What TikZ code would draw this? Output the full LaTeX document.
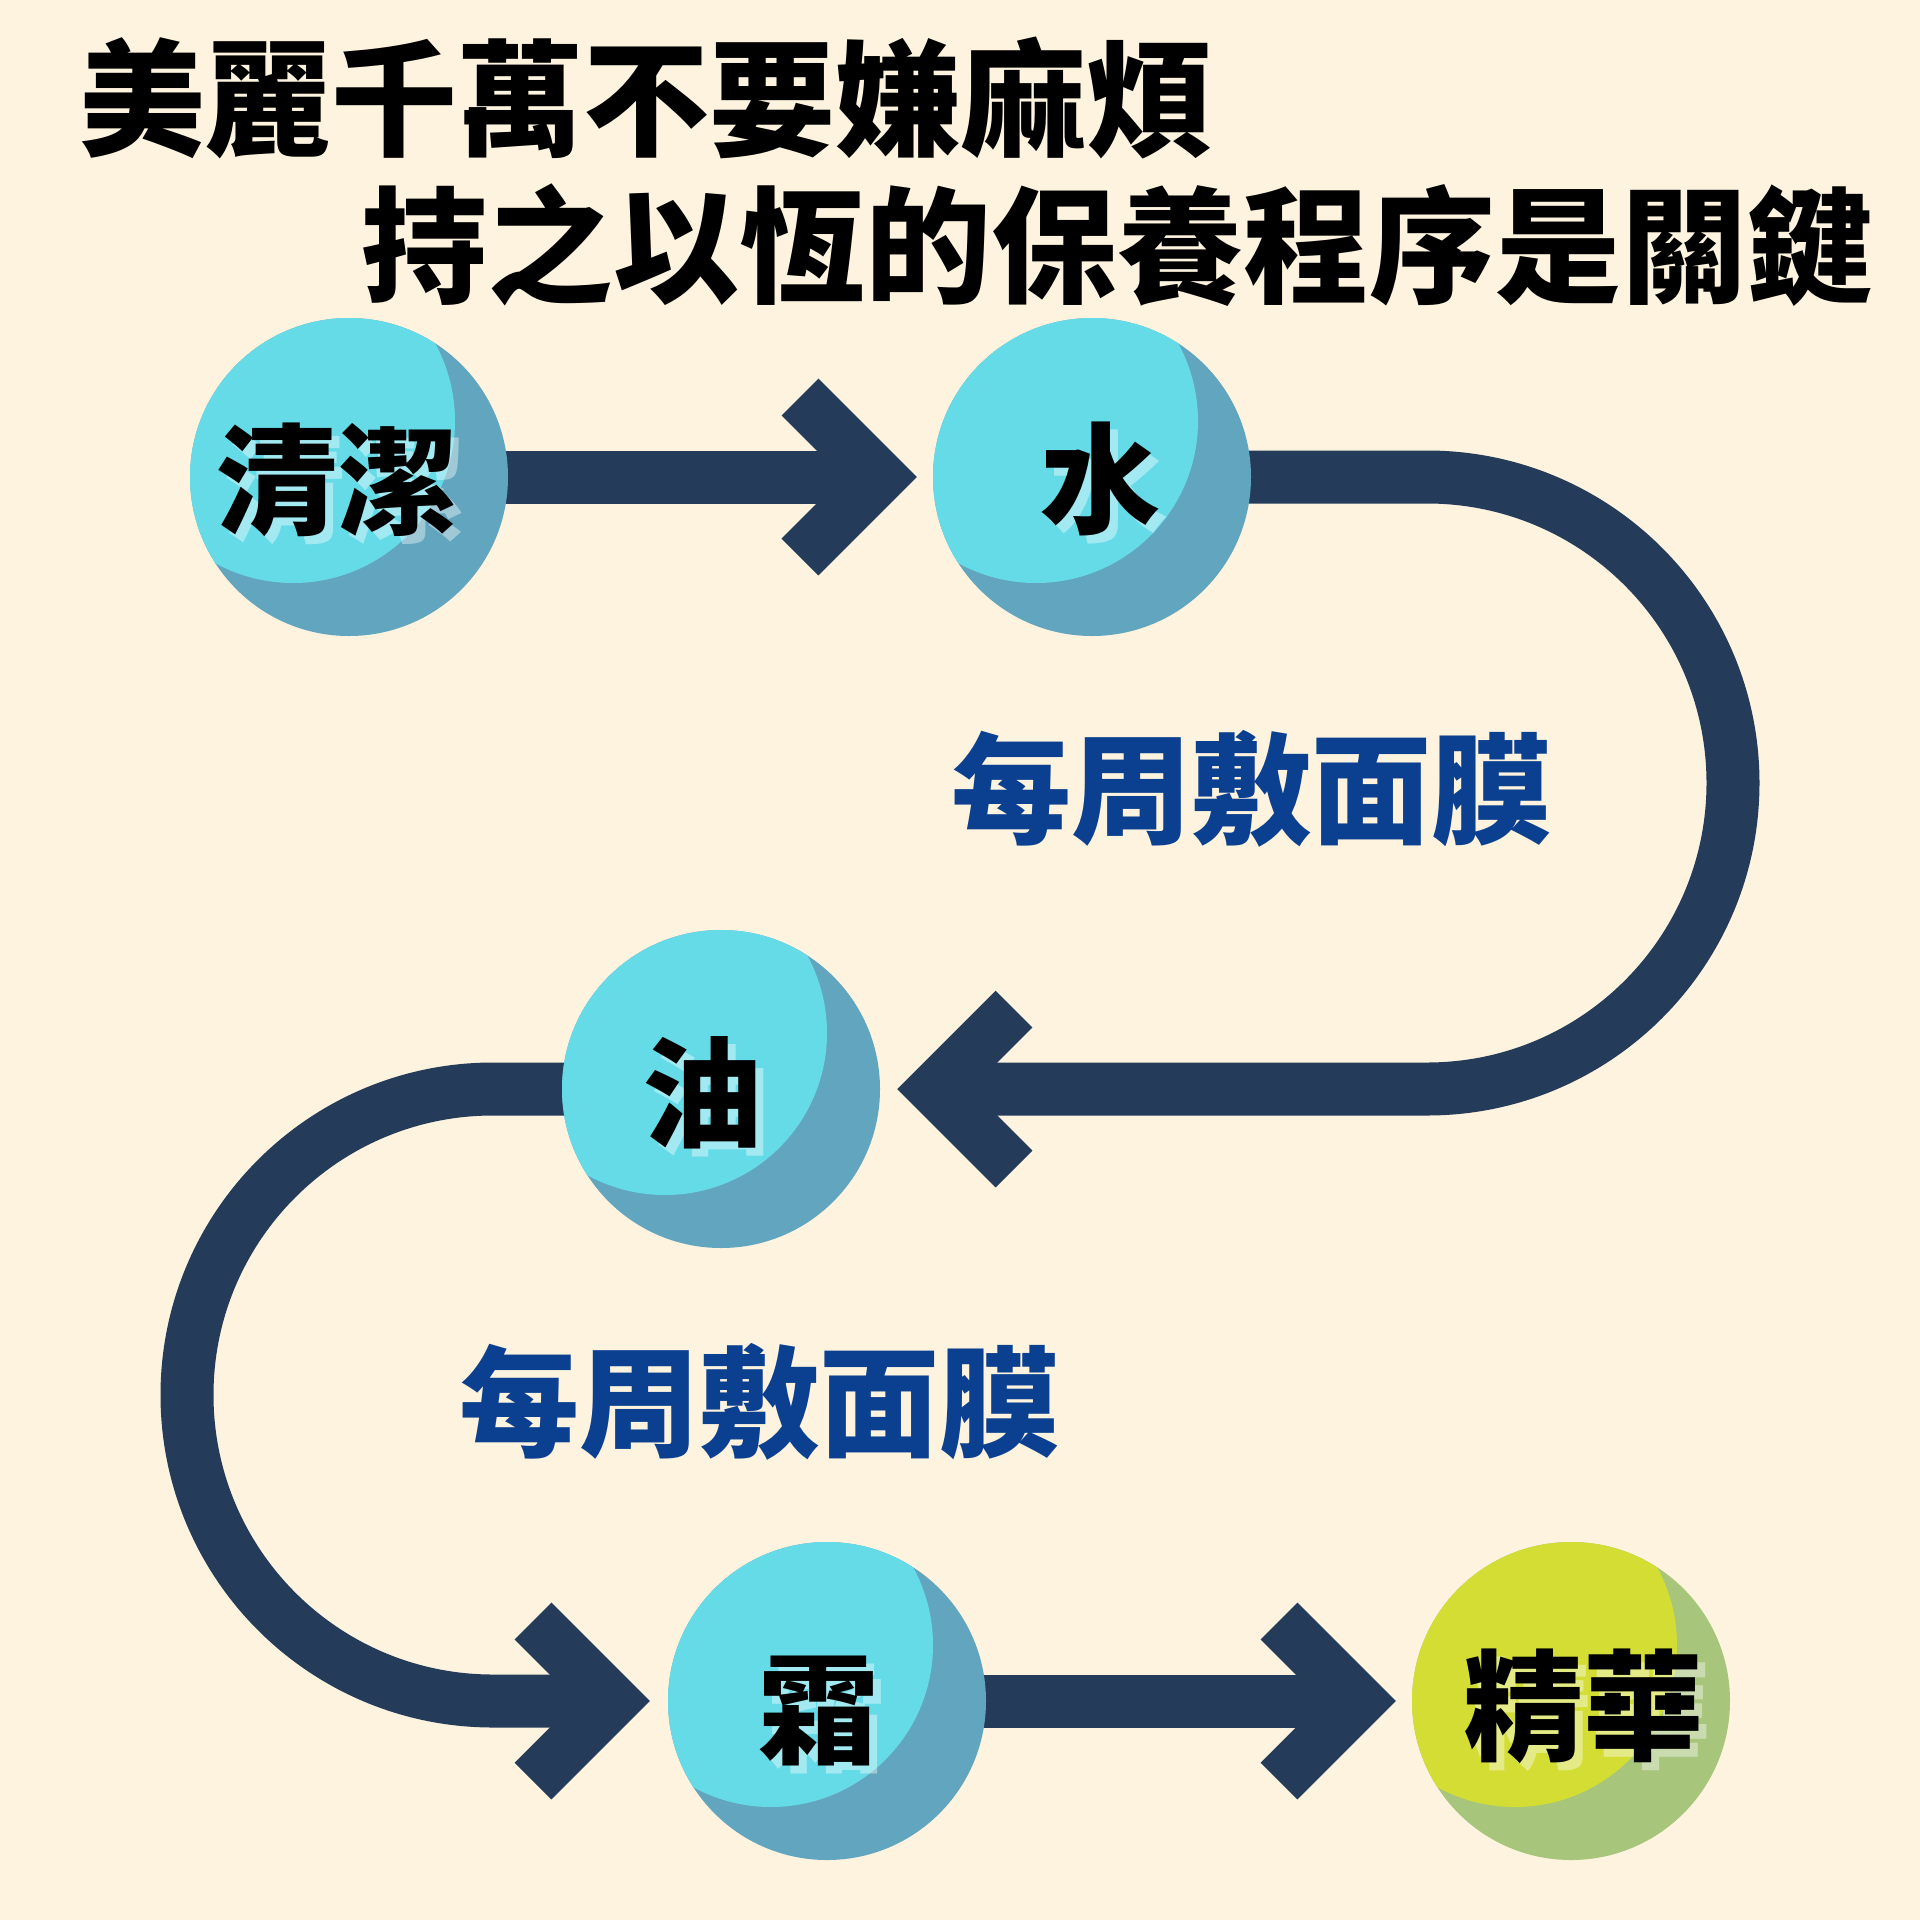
\documentclass[tikz,border=0pt]{standalone}
\usepackage{fontspec}
\newfontfamily\cjk{Noto Sans CJK TC}
\usetikzlibrary{backgrounds}
\definecolor{bg}{HTML}{FDF3DF}
\definecolor{navy}{HTML}{243B5A}
\definecolor{cyanL}{HTML}{66DBE8}
\definecolor{cyanD}{HTML}{62A5BF}
\definecolor{limeL}{HTML}{D3DD34}
\definecolor{limeD}{HTML}{A7C57B}
\definecolor{deepblue}{HTML}{0B3F8F}
\begin{document}
\begin{tikzpicture}[x=1pt,y=-1pt,
  flow/.style={draw=navy, line width=53pt},
  chev/.style={draw=navy, line width=52pt, line join=miter, line cap=butt},
  ball/.style 2 args={circle, inner sep=0pt, minimum size=318pt, fill=#2,
    path picture={\fill[#1] ([shift={(-56,-56)}]path picture bounding box.center) circle[radius=162];}},
  lbl/.style={font=\cjk\bfseries\fontsize{120}{120}\selectfont, inner sep=0pt, anchor=base},
  lblshadow/.style={lbl, text=white, text opacity=0.4},
  headline/.style={font=\cjk\bfseries\fontsize{126}{126}\selectfont, inner sep=0pt, anchor=base, text=black},
  note/.style={font=\cjk\bfseries\fontsize{120}{120}\selectfont, inner sep=0pt, anchor=base, text=deepblue}
]
\useasboundingbox (0,0) rectangle (1920,1920);

% circles
\node[ball={cyanL}{cyanD}] (c1) at (349,477) {};
\node[ball={cyanL}{cyanD}] (c2) at (1092,477) {};
\node[ball={cyanL}{cyanD}] (c3) at (721,1089) {};
\node[ball={cyanL}{cyanD}] (c4) at (827,1701) {};
\node[ball={limeL}{limeD}] (c5) at (1571,1701) {};

% arrow tips
\coordinate (tip1) at (880,477);
\coordinate (tip2) at (934,1089);
\coordinate (tip3) at (613,1701);
\coordinate (tip4) at (1359,1701);

\begin{pgfonlayer}{background}
\fill[bg] (0,0) rectangle (1920,1920);
\draw[flow] (c1.center) -- (tip1);
\draw[flow] (c2.center) -- (1427,477) arc[start angle=-90, end angle=90, radius=306] -- (tip2);
\draw[flow] (c3.center) -- (493,1089) arc[start angle=270, end angle=90, radius=306] -- (tip3);
\draw[flow] (c4.center) -- (tip4);
\end{pgfonlayer}

% chevrons
\draw[chev] ([shift={(-80,-80)}]tip1) -- (tip1) -- ([shift={(-80,80)}]tip1);
\draw[chev] ([shift={(80,-80)}]tip2) -- (tip2) -- ([shift={(80,80)}]tip2);
\draw[chev] ([shift={(-80,-80)}]tip3) -- (tip3) -- ([shift={(-80,80)}]tip3);
\draw[chev] ([shift={(-80,-80)}]tip4) -- (tip4) -- ([shift={(-80,80)}]tip4);

% title
\node[headline] (h1) at (646,146) {美麗千萬不要嫌麻煩};
\node[headline] (h2) at (1117,293) {持之以恆的保養程序是關鍵};

% labels with shadows
\node[lblshadow] at (345,533) {清潔};
\node[lbl] (t1) at (337,525) {清潔};
\node[lblshadow] at (1108,532) {水};
\node[lbl] (t2) at (1100,524) {水};
\node[lblshadow] at (710,1146) {油};
\node[lbl] (t3) at (702,1138) {油};
\node[lblshadow] at (826,1762) {霜};
\node[lbl] (t4) at (818,1754) {霜};
\node[lblshadow] at (1591,1759) {精華};
\node[lbl] (t5) at (1583,1751) {精華};

% notes
\node[note] (n1) at (1251,834) {每周敷面膜};
\node[note] (n2) at (759,1447) {每周敷面膜};
\end{tikzpicture}
\end{document}
